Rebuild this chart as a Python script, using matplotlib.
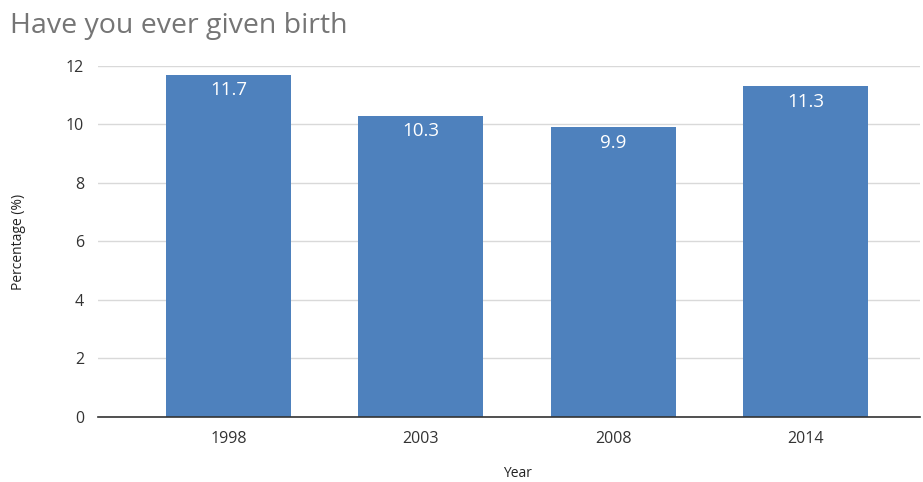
import numpy as np
import matplotlib.pyplot as plt

# Share of respondents who have ever given birth
years = ['1998', '2003', '2008', '2014']
percentages = [11.7, 10.3, 9.9, 11.3]

plt.rcParams['font.family'] = ['Open Sans', 'DejaVu Sans']

fig = plt.figure(figsize=(9.23, 4.82), dpi=100)
ax = fig.add_axes([0.1062, 0.1349, 0.8905, 0.7282])

x = np.arange(len(years))
bars = ax.bar(x, percentages, width=0.65, color='#4e81bd', zorder=3)

# Value labels just inside the top of each bar
for rect, val in zip(bars, percentages):
    ax.annotate(f'{val}', (rect.get_x() + rect.get_width() / 2, val),
                xytext=(0, -11), textcoords='offset points',
                ha='center', va='center', color='white', fontsize=13.5)

ax.set_xlim(-0.678, 3.595)
ax.set_ylim(0, 12)
ax.set_yticks(np.arange(0, 13, 2))
ax.set_xticks(x, years)

ax.grid(axis='y', color='#d9d9d9', linewidth=1, zorder=0)
for side in ['top', 'right', 'left']:
    ax.spines[side].set_visible(False)
ax.spines['bottom'].set_color('#333333')
ax.spines['bottom'].set_linewidth(1.2)
ax.spines['bottom'].set_zorder(4)
ax.tick_params(axis='both', length=0, labelsize=11.5, labelcolor='#333333')
ax.tick_params(axis='y', pad=10)
ax.tick_params(axis='x', pad=10)

ax.set_ylabel('Percentage (%)', fontsize=10, color='#222222', va='center')
ax.set_xlabel('Year', fontsize=10, color='#222222', va='center')
ax.yaxis.set_label_coords(-0.0973, 0.5)
ax.xaxis.set_label_coords(0.51, -0.162)

fig.text(10 / 923, 1 - 26 / 482, 'Have you ever given birth',
         fontsize=20.5, color='#757575', ha='left', va='center')

fig.savefig('out.png', dpi=100)
